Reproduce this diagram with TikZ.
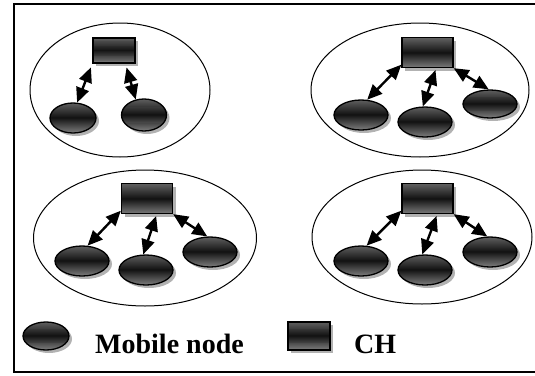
\documentclass[tikz,border=0pt]{standalone}
\usepackage{fontspec}
\setmainfont{Liberation Serif}
\usetikzlibrary{shapes.geometric,shadows,arrows.meta,calc}
\newcommand\gradfill{%
  \foreach \i in {0,...,29}{%
    \pgfmathsetmacro\ta{\i/30}%
    \pgfmathsetmacro\tb{(\i+1.4)/30}%
    \pgfmathsetmacro\tm{(\i+0.5)/30}%
    \pgfmathsetmacro\c{\tm<0.5 ? 62+31*(\tm/0.5) : 93-41*((\tm-0.5)/0.5)}%
    \fill[black!\c] ($(path picture bounding box.north west)!\ta!(path picture bounding box.south west)$) rectangle ($(path picture bounding box.north east)!\tb!(path picture bounding box.south east)$);
  }%
}
\tikzset{
  shad/.style={drop shadow={shadow xshift=3pt,shadow yshift=-3pt,fill=gray!60,opacity=1}},
  grad/.style={fill=black!70, path picture={\gradfill}},
  mnode/.style={ellipse, draw=black, line width=1.3pt, inner sep=0pt, minimum width=54pt, minimum height=30pt, shad, grad},
  chbox/.style={rectangle, draw=black, line width=1.3pt, inner sep=0pt, minimum width=51pt, minimum height=30pt, shad, grad},
  cluster/.style={ellipse, draw=black, line width=1pt, inner sep=0pt},
  link/.style={line width=2.4pt, arrows={Triangle[length=15pt,width=13pt]-Triangle[length=15pt,width=13pt]}},
  lbl/.style={font=\fontsize{28}{30}\selectfont\bfseries, anchor=base west, inner sep=0pt}
}
\begin{document}
\begin{tikzpicture}[x=1pt,y=-1pt]
\useasboundingbox (0,0) rectangle (535,375);
\draw[line width=2pt] (535,4) -- (14,4) -- (14,372) -- (535,372);

% clusters
\node[cluster, minimum width=180pt, minimum height=134pt] (c1) at (120,90) {};
\node[cluster, minimum width=218pt, minimum height=134pt] (c2) at (420,90) {};
\node[cluster, minimum width=223pt, minimum height=136pt] (c3) at (145,238) {};
\node[cluster, minimum width=220pt, minimum height=134pt] (c4) at (422,237) {};

% top-left
\node[chbox, minimum width=42pt, minimum height=25pt] (h1) at (114,50.5) {};
\node[mnode, minimum width=46pt, minimum height=30pt] (a1) at (73,118) {};
\node[mnode, minimum width=45pt, minimum height=32pt] (a2) at (144,115) {};
\draw[link, shorten <=4pt] (h1.south west) -- (a1.75);
\draw[link, shorten <=4pt] (h1.-49) -- (a2.118);

% top-right
\node[chbox] (h2) at (427.5,52.5) {};
\node[mnode] (b1) at (361,115) {};
\node[mnode] (b2) at (425,122) {};
\node[mnode, minimum height=28pt] (b3) at (490,104) {};
\draw[link] (h2.205) -- (b1.68);
\draw[link, shorten <=2pt] (h2.-61) -- (b2.98);
\draw[link] (h2.south east) -- (b3.95);

% bottom-left
\node[chbox] (h3) at (147,198.5) {};
\node[mnode] (d1) at (82,261) {};
\node[mnode] (d2) at (146,270) {};
\node[mnode] (d3) at (210,252) {};
\draw[link] (h3.205) -- (d1.70);
\draw[link, shorten <=2pt] (h3.-58) -- (d2.100);
\draw[link] (h3.south east) -- (d3.100);

% bottom-right
\node[chbox] (h4) at (427.5,198.5) {};
\node[mnode] (e1) at (361,261) {};
\node[mnode] (e2) at (425,270) {};
\node[mnode] (e3) at (490,252) {};
\draw[link] (h4.205) -- (e1.70);
\draw[link, shorten <=2pt] (h4.-58) -- (e2.100);
\draw[link] (h4.south east) -- (e3.100);

% legend
\node[mnode, minimum width=46pt, minimum height=28pt] (lm) at (46,336) {};
\node[lbl] (lmt) at (95,353) {Mobile node};
\node[chbox, minimum width=42pt, minimum height=28pt] (lc) at (309,336) {};
\node[lbl] (lct) at (354,353) {CH};
\end{tikzpicture}
\end{document}
